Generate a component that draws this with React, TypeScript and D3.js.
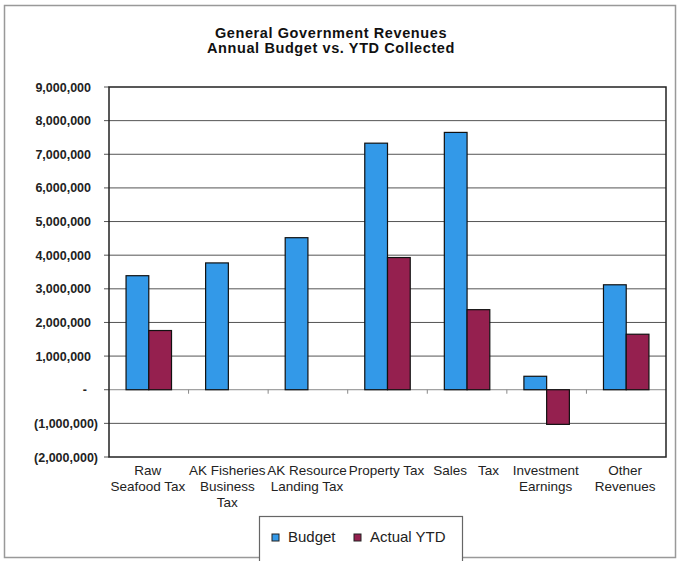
import React from "react";
import * as d3 from "d3";

const categories: string[][] = [
  ["Raw", "Seafood Tax"],
  ["AK Fisheries", "Business", "Tax"],
  ["AK Resource", "Landing Tax"],
  ["Property Tax"],
  ["Sales   Tax"],
  ["Investment", "Earnings"],
  ["Other", "Revenues"],
];
const budget = [3390000, 3770000, 4520000, 7330000, 7650000, 400000, 3120000];
const actualYTD = [1760000, 0, 0, 3930000, 2380000, -1030000, 1650000];
const yTicks = [9000000, 8000000, 7000000, 6000000, 5000000, 4000000, 3000000, 2000000, 1000000, 0, -1000000, -2000000];
const seriesNames = ["Budget", "Actual YTD"];
const colors = ["#3399e8", "#95204f"];

const W = 678, H = 561;
const plot = { left: 109, right: 666, top: 87, bottom: 457 };
const font = "'Liberation Sans', Arial, sans-serif";

function fmt(v: number): string {
  if (v === 0) return "-";
  const s = d3.format(",")(Math.abs(v));
  return v < 0 ? `(${s})` : s;
}

export default function App() {
  const y = d3.scaleLinear().domain([-2000000, 9000000]).range([plot.bottom, plot.top]);
  const x0 = d3.scaleBand<number>().domain(d3.range(categories.length)).range([plot.left, plot.right]).paddingInner(0).paddingOuter(0);
  const bw = x0.bandwidth() / 3.5;
  const data = [budget, actualYTD];
  return (
    <svg width={W} height={H} style={{ position: "absolute", left: 0, top: 0, background: "#fff" }}>
      <rect x={4.5} y={5.5} width={671} height={552} fill="#fff" stroke="#999" strokeWidth={1.5} />
      <text x={331} y={38} textAnchor="middle" fontFamily={font} fontWeight="bold" fontSize={14.5} letterSpacing={0.6} fill="#111">General Government Revenues</text>
      <text x={331} y={53} textAnchor="middle" fontFamily={font} fontWeight="bold" fontSize={14.5} letterSpacing={0.6} fill="#111">Annual Budget vs. YTD Collected</text>
      {yTicks.map((t) => (
        <g key={t}>
          {t !== 9000000 && t !== -2000000 && (
            <line x1={plot.left} x2={plot.right} y1={y(t)} y2={y(t)} stroke={t === 0 ? "#888" : "#555"} strokeWidth={1} />
          )}
          <line x1={plot.left - 5} x2={plot.left} y1={y(t)} y2={y(t)} stroke="#555" />
          <text x={t === 0 ? 87 : t < 0 ? 98 : 91} y={y(t) + 4.5} textAnchor="end" fontFamily={font} fontWeight="bold" fontSize={12.5} fill="#222">{fmt(t)}</text>
        </g>
      ))}
      {d3.range(1, categories.length).map((i) => (
        <line key={i} x1={x0(i)!} x2={x0(i)!} y1={y(0)} y2={y(0) + 4} stroke="#888" />
      ))}
      {data.map((series, si) =>
        series.map((v, ci) =>
          v === 0 ? null : (
            <rect
              key={`${si}-${ci}`}
              x={x0(ci)! + 0.75 * bw + si * bw}
              y={y(Math.max(0, v))}
              width={bw}
              height={Math.abs(y(v) - y(0))}
              fill={colors[si]}
              stroke="#111"
              strokeWidth={1.2}
            />
          )
        )
      )}
      <rect x={plot.left} y={plot.top} width={plot.right - plot.left} height={plot.bottom - plot.top} fill="none" stroke="#222" strokeWidth={1.5} />
      {categories.map((lines, ci) => (
        <text key={ci} textAnchor="middle" fontFamily={font} fontSize={13.5} fill="#222">
          {lines.map((l, li) => (
            <tspan key={li} x={x0(ci)! + x0.bandwidth() / 2 - 1} y={475 + li * 16} style={{ whiteSpace: "pre" }}>{l}</tspan>
          ))}
        </text>
      ))}
      <rect x={259.5} y={516.5} width={203} height={50} fill="#fff" stroke="#666" strokeWidth={1.2} />
      {seriesNames.map((n, i) => {
        const lx = i === 0 ? 272 : 354;
        return (
          <g key={n}>
            <rect x={lx} y={534} width={7} height={7} fill={colors[i]} stroke="#222" strokeWidth={1} />
            <text x={lx + 16} y={542} fontFamily={font} fontSize={15} fill="#222">{n}</text>
          </g>
        );
      })}
    </svg>
  );
}
